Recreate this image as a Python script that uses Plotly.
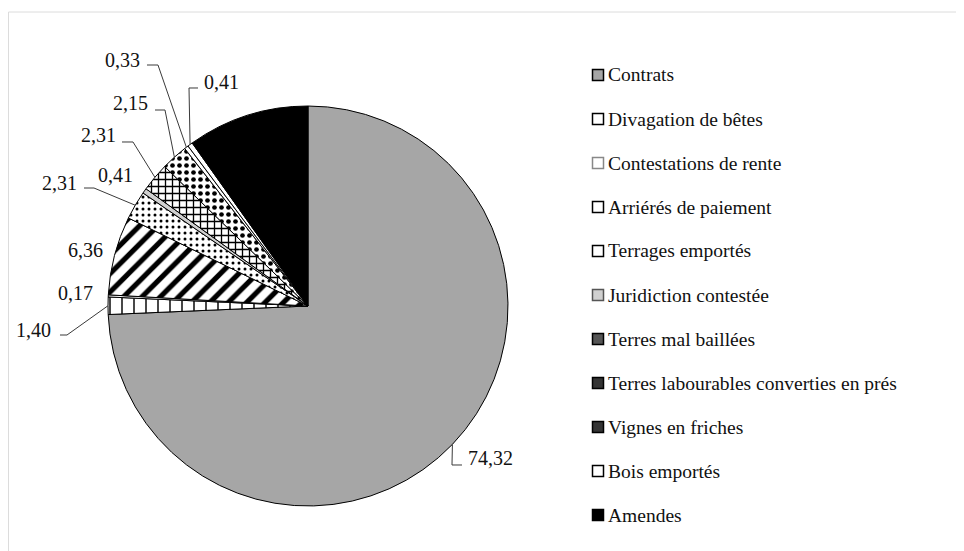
import math
import plotly.graph_objects as go

# ---------------- data ----------------
categories = [
    "Contrats",
    "Divagation de bêtes",
    "Contestations de rente",
    "Arriérés de paiement",
    "Terrages emportés",
    "Juridiction contestée",
    "Terres mal baillées",
    "Terres labourables converties en prés",
    "Vignes en friches",
    "Bois emportés",
    "Amendes",
]
values = [74.32, 1.40, 0.17, 6.36, 2.31, 0.41, 2.31, 2.15, 0.33, 0.41, 9.83]
show_value = [True, True, True, True, True, True, True, True, True, True, False]

# ---------------- styles ----------------
W, H = 964, 551
OFF = 8                              # page body margin of the browser
CX, CY, R = 308, 306, 200            # pie centre and radius in screen pixels
FONT = "Liberation Serif"

slice_colors = ["#a6a6a6", "white", "white", "white", "white", "#d0d0d0",
                "white", "white", "white", "white", "black"]
pat_shape = ["", "|", "", "/", ".", "", "+", ".", "", "", ""]
pat_size = [8, 12, 8, 13, 6, 8, 7, 7, 8, 8, 8]
pat_solid = [0.3, 0.12, 0.3, 0.4, 0.2, 0.3, 0.34, 0.35, 0.3, 0.3, 0.3]
legend_fill = ["#a6a6a6", "white", "white", "white", "white", "#d0d0d0",
               "#555555", "#333333", "#333333", "white", "black"]
legend_line = ["black", "black", "#888888", "black", "black", "#555555",
               "black", "black", "black", "black", "black"]

# label layout: text position (px), xanchor, elbow points from text toward slice
label_layout = [
    (466, 458, "left", [(462, 465), (452, 465)]),
    (53, 330, "right", [(60, 335), (67, 335)]),
    (95, 293, "right", None),
    (105, 250, "right", None),
    (79, 183, "right", [(84, 188), (94, 188)]),
    (135, 175, "right", None),
    (118, 135, "right", [(122, 142), (133, 142)]),
    (150, 103, "right", [(155, 110), (165, 110)]),
    (142, 60, "right", [(147, 65), (158, 65)]),
    (202, 82, "left", [(198, 88), (189, 88)]),
    None,
]


def px(x):
    return (x - OFF) / W


def py(y):
    return 1 - (y - OFF) / H


fig = go.Figure()
fig.add_trace(go.Pie(
    labels=categories,
    values=values,
    sort=False,
    direction="clockwise",
    rotation=0,
    textinfo="none",
    hoverinfo="label+value",
    showlegend=False,
    domain=dict(x=[px(CX - R), px(CX + R)], y=[py(CY + R), py(CY - R)]),
    marker=dict(
        colors=slice_colors,
        line=dict(color="black", width=1),
        pattern=dict(shape=pat_shape, size=pat_size, solidity=pat_solid,
                     fgcolor="black", bgcolor=slice_colors, fillmode="replace"),
    ),
))

shapes = []
annotations = []

# outer faint frame
shapes.append(dict(type="rect", xref="paper", yref="paper",
                   x0=px(8.5), x1=1.05, y0=-0.05, y1=py(12),
                   line=dict(color="#dcdcdc", width=1)))

# value labels with leader lines
total = sum(values)
cum = 0.0
for i, v in enumerate(values):
    mid = (cum + v / 2) / total
    cum += v
    lay = label_layout[i]
    if not show_value[i] or lay is None:
        continue
    tx, ty, xa, elbows = lay
    text = f"{v:.2f}".replace(".", ",")
    annotations.append(dict(x=px(tx), y=py(ty), xref="paper", yref="paper",
                            text=text, showarrow=False, xanchor=xa, yanchor="middle",
                            font=dict(family=FONT, size=20, color="#111111")))
    if elbows:
        th = 2 * math.pi * mid
        ex, ey = CX + R * math.sin(th), CY - R * math.cos(th)
        pts = elbows + [(ex, ey)]
        path = "M " + " L ".join(f"{px(a):.5f},{py(b):.5f}" for a, b in pts)
        shapes.append(dict(type="path", xref="paper", yref="paper", path=path,
                           line=dict(color="#3a3a3a", width=1)))

# legend (custom, right side)
LX, LY0, LSTEP, SQ = 598, 75, 44, 11
for i, name in enumerate(categories):
    y = LY0 + i * LSTEP
    shapes.append(dict(type="rect", xref="paper", yref="paper",
                       x0=px(LX - SQ / 2), x1=px(LX + SQ / 2),
                       y0=py(y + SQ / 2), y1=py(y - SQ / 2),
                       fillcolor=legend_fill[i],
                       line=dict(color=legend_line[i], width=1.5)))
    annotations.append(dict(x=px(LX + 8), y=py(y), xref="paper", yref="paper",
                            text=name, showarrow=False, xanchor="left", yanchor="middle",
                            font=dict(family=FONT, size=19.5, color="#111111")))

fig.update_layout(
    width=W, height=H,
    margin=dict(l=0, r=0, t=0, b=0),
    paper_bgcolor="white",
    plot_bgcolor="white",
    shapes=shapes,
    annotations=annotations,
)

fig.write_html("out.html")
